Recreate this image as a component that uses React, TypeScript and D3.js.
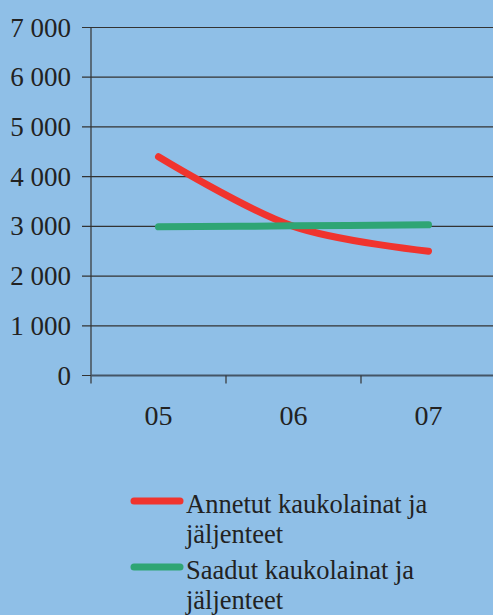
import * as d3 from 'd3';
import React, { useEffect, useRef } from 'react';

const categories = ['05', '06', '07'];
const annetut = [4400, 3000, 2500];
const saadut = [2990, 3010, 3030];
const yTicks = [0, 1000, 2000, 3000, 4000, 5000, 6000, 7000];
const seriesNames = ['Annetut kaukolainat ja jäljenteet', 'Saadut kaukolainat ja jäljenteet'];

export default function App() {
    const ref = useRef<SVGSVGElement>(null);

    const width = 493;
    const height = 615;
    const margin = { top: 27.5, right: 0, bottom: 239.5, left: 91 };
    const font = "'Times New Roman', Times, 'Liberation Serif', 'DejaVu Serif', serif";

    useEffect(() => {
        document.body.style.margin = '0';
        drawChart();
    }, []);

    function drawChart() {
        const svg = d3.select(ref.current);
        svg.selectAll('*').remove();

        svg.append('rect')
            .attr('width', width)
            .attr('height', height)
            .attr('fill', '#8fbfe7');

        const yScale = d3.scaleLinear()
            .domain([0, 7000])
            .range([height - margin.bottom, margin.top]);

        const xScale = d3.scaleBand()
            .domain(categories)
            .range([margin.left, margin.left + 135 * 3]);

        const fmt = (d: number) => d3.format(',')(d).replace(',', ' ');

        // gridlines
        svg.append('g')
            .selectAll('line')
            .data(yTicks)
            .enter()
            .append('line')
            .attr('x1', margin.left - 9)
            .attr('x2', width)
            .attr('y1', d => yScale(d))
            .attr('y2', d => yScale(d))
            .attr('stroke', '#333')
            .attr('stroke-width', 1.2);

        // y labels
        svg.append('g')
            .selectAll('text')
            .data(yTicks)
            .enter()
            .append('text')
            .attr('x', 71)
            .attr('y', d => yScale(d) + 9)
            .attr('text-anchor', 'end')
            .style('font-family', font)
            .style('font-size', '27px')
            .attr('fill', '#222')
            .text(d => fmt(d));

        // y axis line
        svg.append('line')
            .attr('x1', margin.left)
            .attr('x2', margin.left)
            .attr('y1', yScale(7000))
            .attr('y2', yScale(0) + 8)
            .attr('stroke', '#333')
            .attr('stroke-width', 1.2);

        // x axis
        const xAxisY = yScale(0);
        svg.append('line')
            .attr('x1', margin.left)
            .attr('x2', width)
            .attr('y1', xAxisY)
            .attr('y2', xAxisY)
            .attr('stroke', '#445566')
            .attr('stroke-width', 2);

        svg.append('g')
            .selectAll('line')
            .data(categories.slice(1))
            .enter()
            .append('line')
            .attr('x1', d => xScale(d)!)
            .attr('x2', d => xScale(d)!)
            .attr('y1', xAxisY)
            .attr('y2', xAxisY + 8)
            .attr('stroke', '#333')
            .attr('stroke-width', 1.2);

        svg.append('g')
            .selectAll('text')
            .data(categories)
            .enter()
            .append('text')
            .attr('x', d => xScale(d)! + xScale.bandwidth() / 2)
            .attr('y', 425)
            .attr('text-anchor', 'middle')
            .style('font-family', font)
            .style('font-size', '28px')
            .attr('fill', '#222')
            .text(d => d);

        const line = d3.line<number>()
            .x((d, i) => xScale(categories[i])! + xScale.bandwidth() / 2)
            .y(d => yScale(d))
            .curve(d3.curveCatmullRom.alpha(0.5));

        const series = [
            { values: annetut, color: '#f0342e' },
            { values: saadut, color: '#2fa574' },
        ];

        series.forEach(s => {
            svg.append('path')
                .datum(s.values)
                .attr('d', line)
                .attr('fill', 'none')
                .attr('stroke', s.color)
                .attr('stroke-width', 7)
                .attr('stroke-linecap', 'round');
        });

        // legend
        const legendY = [501, 567];
        const lineSpacing = 30;
        series.forEach((s, i) => {
            svg.append('line')
                .attr('x1', 134)
                .attr('x2', 180)
                .attr('y1', legendY[i])
                .attr('y2', legendY[i])
                .attr('stroke', s.color)
                .attr('stroke-width', 7)
                .attr('stroke-linecap', 'round');

            const words = seriesNames[i].split(' ');
            const first = words.slice(0, 3).join(' ');
            const second = words.slice(3).join(' ');
            const t = svg.append('text')
                .style('font-family', font)
                .style('font-size', '26.5px')
                .attr('fill', '#222');
            t.append('tspan').attr('x', 186).attr('y', legendY[i] + 12).text(first);
            t.append('tspan').attr('x', 186).attr('y', legendY[i] + 12 + lineSpacing).text(second);
        });
    }

    return <svg ref={ref} width={width} height={height} style={{ display: 'block' }} />;
}
